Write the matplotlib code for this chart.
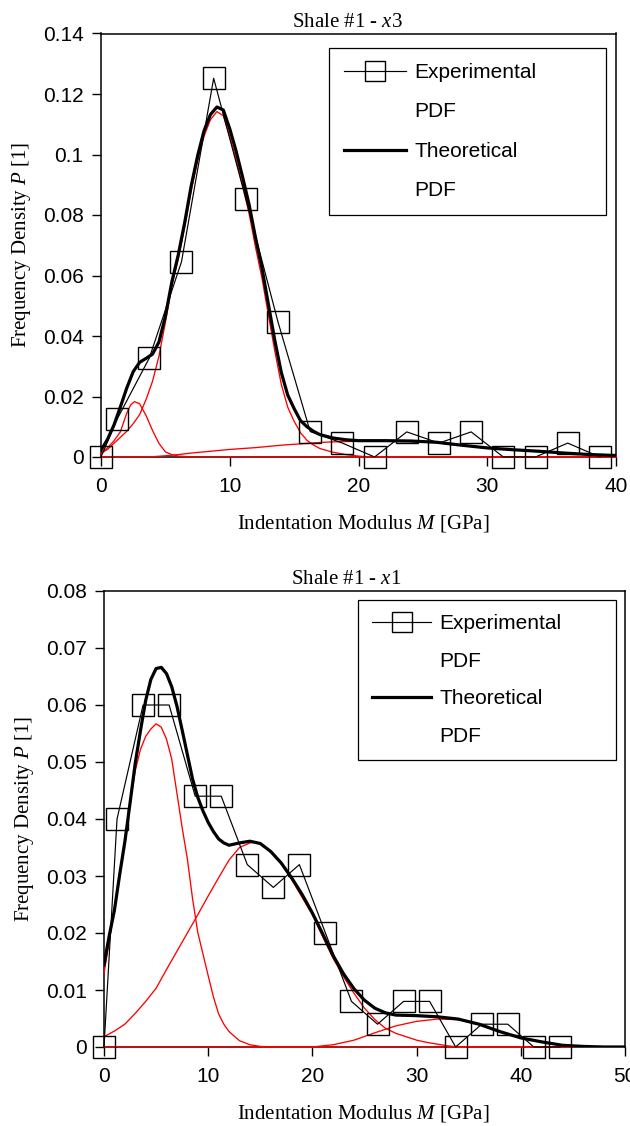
import matplotlib
matplotlib.use("Agg")
import matplotlib.pyplot as plt
from matplotlib.lines import Line2D

plt.rcParams['font.family'] = ['Liberation Sans', 'DejaVu Sans']
plt.rcParams['mathtext.fontset'] = 'custom'
plt.rcParams['mathtext.rm'] = 'Liberation Serif'
plt.rcParams['mathtext.it'] = 'Liberation Serif:italic'

# ---------------- Top chart: Shale #1 - x3 ----------------
top_title = r'Shale #1 - $\mathit{x}$3'
top_exp_M = [0, 1.25, 3.75, 6.25, 8.75, 11.25, 13.75, 16.25, 18.75, 21.25,
             23.75, 26.25, 28.75, 31.25, 33.75, 36.25, 38.75]
top_exp_P = [0.0, 0.0125, 0.0327, 0.0645, 0.1252, 0.0853, 0.0446, 0.0084, 0.0046, 0.0,
             0.0083, 0.0046, 0.0083, 0.0, 0.0, 0.0046, 0.0]

top_th_M = [0, 0.5, 1, 1.5, 2, 2.5, 3, 3.5, 4, 4.5,
            5, 5.5, 6, 6.5, 7, 7.5, 8, 8.5, 9, 9.5,
            10, 10.5, 11, 11.5, 12, 12.5, 13, 13.5, 14, 14.5,
            15, 15.5, 16, 16.5, 17, 18, 19, 20,
            22, 24, 26, 28, 30, 32, 34, 36, 38, 40]
top_th_P = [0.0022, 0.0058, 0.0105, 0.0165, 0.0228, 0.0282, 0.0313, 0.0326, 0.0340, 0.0380,
            0.0465, 0.0578, 0.0668, 0.0775, 0.0895, 0.0995, 0.1078, 0.1132, 0.1157, 0.1147,
            0.1085, 0.1010, 0.0925, 0.0835, 0.0725, 0.0625, 0.0505, 0.0385, 0.0280, 0.0205,
            0.0160, 0.0120, 0.0100, 0.0085, 0.0074, 0.0063, 0.0057, 0.0054,
            0.0054, 0.0053, 0.0049, 0.0039, 0.0030, 0.0024, 0.0019, 0.0013, 0.0008, 0.0005]

top_c1_M = [0, 0.5, 1, 1.5, 2, 2.3, 2.6, 3.0, 3.5, 4, 4.5, 5, 5.5, 6, 7, 40]
top_c1_P = [0.0012, 0.0030, 0.0053, 0.0083, 0.0145, 0.0172, 0.0183, 0.0176, 0.0137, 0.0088,
            0.0045, 0.0017, 0.0008, 0.0003, 0.0, 0.0]

top_c2_M = [0, 0.5, 1, 1.5, 2, 2.5, 3, 3.5, 4, 4.5,
            5, 5.5, 6, 6.5, 7, 7.5, 8, 8.5, 9, 9.5,
            10, 10.5, 11, 11.5, 12, 12.5, 13, 13.5, 14, 14.5,
            15, 15.5, 16, 16.5, 17, 18, 19, 20, 21, 40]
top_c2_P = [0.0012, 0.0025, 0.0045, 0.0065, 0.0085, 0.0110, 0.0140, 0.0190, 0.0250, 0.0333,
            0.0445, 0.0565, 0.0655, 0.0760, 0.0880, 0.0978, 0.1060, 0.1115, 0.1142, 0.1128,
            0.1060, 0.0983, 0.0897, 0.0805, 0.0694, 0.0592, 0.0470, 0.0350, 0.0241, 0.0165,
            0.0118, 0.0080, 0.0055, 0.0040, 0.0028, 0.0016, 0.0008, 0.0003, 0.0, 0.0]

top_c3_M = [0, 4, 5, 6, 7, 8, 9, 10, 11, 12, 13, 14, 15, 16, 17, 18, 19, 20,
            22, 24, 26, 28, 30, 32, 34, 36, 38, 40]
top_c3_P = [0.0, 0.0001, 0.0004, 0.0008, 0.0013, 0.0017, 0.0021, 0.0025, 0.0028, 0.0031,
            0.0035, 0.0039, 0.0042, 0.0045, 0.0048, 0.0050, 0.0051, 0.0052,
            0.0052, 0.0051, 0.0047, 0.0039, 0.0031, 0.0024, 0.0018, 0.0012, 0.0008, 0.0005]

top_xticks = [0, 10, 20, 30, 40]
top_yticks = [0, 0.02, 0.04, 0.06, 0.08, 0.1, 0.12, 0.14]
top_ylabels = ['0', '0.02', '0.04', '0.06', '0.08', '0.1', '0.12', '0.14']

# ---------------- Bottom chart: Shale #1 - x1 ----------------
bot_title = r'Shale #1 - $\mathit{x}$1'
bot_exp_M = [0, 1.25, 3.75, 6.25, 8.75, 11.25, 13.75, 16.25, 18.75, 21.25,
             23.75, 26.25, 28.75, 31.25, 33.75, 36.25, 38.75, 41.25, 43.75]
bot_exp_P = [0.0, 0.040, 0.060, 0.060, 0.044, 0.044, 0.032, 0.028, 0.032, 0.020,
             0.008, 0.004, 0.008, 0.008, 0.0, 0.004, 0.004, 0.0, 0.0]

bot_th_M = [0, 0.5, 1, 1.5, 2, 2.5, 3, 3.5, 4, 4.5,
            5, 5.5, 6, 6.5, 7, 7.5, 8, 8.5, 9, 9.5,
            10, 10.5, 11, 11.5, 12,
            13, 14, 15, 16, 17, 18, 19, 20, 21, 22, 23, 24, 25, 26, 27, 28,
            30, 32, 34, 36, 38, 40, 42, 44, 46, 48, 50]
bot_th_P = [0.0144, 0.0195, 0.0240, 0.0302, 0.0360, 0.0428, 0.0498, 0.0555, 0.0608, 0.0645,
            0.0664, 0.0666, 0.0655, 0.0632, 0.0598, 0.0556, 0.0513, 0.0470, 0.0438, 0.0414,
            0.0394, 0.0378, 0.0365, 0.0358, 0.0354,
            0.0358, 0.0361, 0.0357, 0.0343, 0.0323, 0.0297, 0.0268, 0.0235, 0.0198, 0.0160,
            0.0128, 0.0102, 0.0082, 0.0068, 0.0060, 0.0056,
            0.0055, 0.0053, 0.0049, 0.0040, 0.0027, 0.0016, 0.0009, 0.0003, 0.0001, 0.0, 0.0]

bot_c1_M = [0, 0.5, 1, 1.5, 2, 2.5, 3, 3.5, 4, 4.5,
            5, 5.5, 6, 6.5, 7, 7.5, 8, 8.5, 9, 9.5,
            10, 10.5, 11, 11.5, 12, 13, 14, 15, 16, 45]
bot_c1_P = [0.0129, 0.0185, 0.0243, 0.0305, 0.0363, 0.0428, 0.0485, 0.0522, 0.0545, 0.0558,
            0.0567, 0.0561, 0.0540, 0.0505, 0.0445, 0.0385, 0.0330, 0.0260, 0.0201, 0.0163,
            0.0125, 0.0088, 0.0058, 0.0040, 0.0027, 0.0011, 0.0004, 0.0001, 0.0, 0.0]

bot_c2_M = [0, 1, 2, 3, 4, 5, 6, 7, 8, 9, 10, 11, 12, 13, 14, 14.5,
            15, 16, 17, 18, 19, 20, 21, 22, 23, 24, 25, 26, 27, 28, 29, 30, 31, 32, 33, 34, 45]
bot_c2_P = [0.0018, 0.0028, 0.0040, 0.0059, 0.0080, 0.0103, 0.0136, 0.0168, 0.0200, 0.0232,
            0.0265, 0.0297, 0.0328, 0.0350, 0.0358, 0.0360,
            0.0356, 0.0343, 0.0322, 0.0294, 0.0263, 0.0232, 0.0193, 0.0155, 0.0123, 0.0094,
            0.0068, 0.0048, 0.0033, 0.0024, 0.0018, 0.0012, 0.0008, 0.0005, 0.0002, 0.0, 0.0]

bot_c3_M = [0, 20, 22, 24, 26, 28, 30, 32, 34, 36, 38, 40, 42, 44, 45]
bot_c3_P = [0.0, 0.0, 0.0004, 0.0012, 0.0025, 0.0037, 0.0045, 0.0049, 0.0048, 0.0039,
            0.0027, 0.0016, 0.0009, 0.0003, 0.0]

bot_xticks = [0, 10, 20, 30, 40, 50]
bot_yticks = [0, 0.01, 0.02, 0.03, 0.04, 0.05, 0.06, 0.07, 0.08]
bot_ylabels = ['0', '0.01', '0.02', '0.03', '0.04', '0.05', '0.06', '0.07', '0.08']

legend_labels = ['Experimental', 'PDF', 'Theoretical', 'PDF']
xlabel = r'Indentation Modulus $\mathit{M}$ [GPa]'
ylabel = r'Frequency Density $\mathit{P}$ [1]'

W, H = 630, 1126
fig = plt.figure(figsize=(W / 100, H / 100), dpi=100)
ax1 = fig.add_axes([101 / W, 1 - 457 / H, 515 / W, 423.5 / H])
ax2 = fig.add_axes([104 / W, 1 - 1047 / H, 521 / W, 456 / H])

RED = '#ff0000'
MS = 16.5


def draw(ax, exp_M, exp_P, th_M, th_P, comps, xmax, ymax, xticks, yticks, ylabels,
         title, title_x, leg_box, leg_kw, xlab_xy, ylab_xy):
    for cm, cp in comps:
        ax.plot(cm, cp, color=RED, lw=0.95, zorder=3, clip_on=False)
    ax.plot(th_M, th_P, color='black', lw=2.3, zorder=4, solid_joinstyle='round')
    ax.plot(exp_M, exp_P, color='black', lw=0.85, marker='s', ms=MS, mfc='none',
            mec='black', mew=1.0, zorder=5, clip_on=False)
    ax.set_xlim(0, xmax)
    ax.set_ylim(0, ymax)
    ax.set_xticks(xticks)
    ax.set_xticklabels([str(t) for t in xticks])
    ax.set_yticks(yticks)
    ax.set_yticklabels(ylabels)
    ax.tick_params(axis='both', which='both', direction='out', length=6.5, width=1.0,
                   labelsize=15, top=False, right=False)
    ax.tick_params(axis='x', pad=8.0)
    ax.tick_params(axis='y', pad=6.0)
    for sp in ax.spines.values():
        sp.set_linewidth(1.1)
        sp.set_color('black')
    ax.set_title(title, fontsize=15, family='Liberation Serif', pad=5, x=title_x)
    ax.set_xlabel(xlabel, fontsize=15, family='Liberation Serif')
    ax.set_ylabel(ylabel, fontsize=15, family='Liberation Serif')
    ax.xaxis.set_label_coords(*xlab_xy)
    ax.yaxis.set_label_coords(*ylab_xy)

    h_exp = Line2D([], [], color='black', lw=0.85, marker='s', ms=MS * 0.9, mfc='none',
                   mec='black', mew=1.0)
    h_blank = Line2D([], [], color='none')
    h_th = Line2D([], [], color='black', lw=2.3)
    leg = ax.legend([h_exp, h_blank, h_th, h_blank], legend_labels,
                    loc='upper left', bbox_to_anchor=leg_box, mode='expand',
                    borderaxespad=0, fancybox=False, framealpha=1, edgecolor='black',
                    prop={'family': 'Liberation Sans', 'size': 15}, **leg_kw)
    leg.get_frame().set_linewidth(0.9)
    leg.set_zorder(10)


draw(ax1, top_exp_M, top_exp_P, top_th_M, top_th_P,
     [(top_c3_M, top_c3_P), (top_c1_M, top_c1_P), (top_c2_M, top_c2_P)],
     40, 0.14, top_xticks, top_yticks, top_ylabels, top_title, 0.478,
     (0.442, 0.0, 0.538, 0.9658),
     dict(borderpad=0.72, labelspacing=0.98, handlelength=2.98, handletextpad=0.42),
     (0.509, -0.133), (-0.133, 0.5))

draw(ax2, bot_exp_M, bot_exp_P, bot_th_M, bot_th_P,
     [(bot_c3_M, bot_c3_P), (bot_c1_M, bot_c1_P), (bot_c2_M, bot_c2_P)],
     50, 0.08, bot_xticks, bot_yticks, bot_ylabels, bot_title, 0.465,
     (0.488, 0.0, 0.4946, 0.980),
     dict(borderpad=0.66, labelspacing=0.9, handlelength=2.84, handletextpad=0.38),
     (0.497, -0.123), (-0.131, 0.5))

fig.savefig('out.png', dpi=100)
